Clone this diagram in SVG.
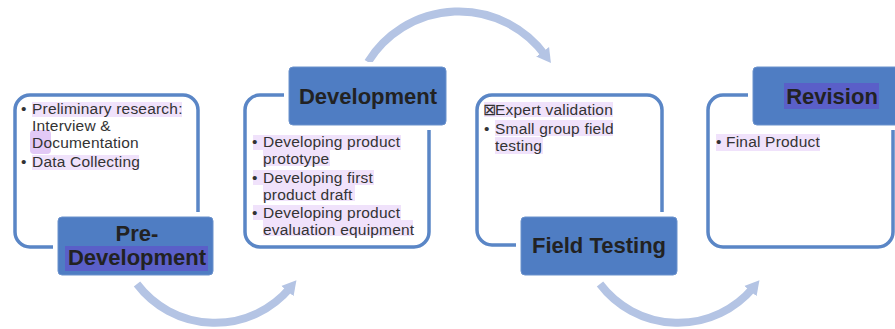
<svg xmlns="http://www.w3.org/2000/svg" width="895" height="329" viewBox="0 0 895 329">
<style>
.frame{fill:#fff;stroke:#5a86c6;stroke-width:3.5}
.gap{fill:#fff}
.lbl{fill:#4f7dc3;stroke:#6b92cc;stroke-width:1}
.lt{font-family:"Liberation Sans",Arial,sans-serif;font-weight:bold;font-size:22px;fill:#222;text-anchor:middle}
.bt{font-family:"Liberation Sans",Arial,sans-serif;font-size:15.5px;letter-spacing:0.2px;fill:#333}
.hl{fill:#f0e2fb}
.hl2{fill:#5a5fc8}
.arc{fill:none;stroke:#b4c4e4;stroke-width:8}
</style>
<defs>
<marker id="ah" markerUnits="userSpaceOnUse" markerWidth="20" markerHeight="20" refX="4" refY="10" orient="auto">
<path d="M0,2 L14,10 L0,18 Z" fill="#b4c4e4"/>
</marker>
</defs>
<g id="connectors">
<path class="arc" d="M137,284 A98,98 0 0 0 290,288" marker-end="url(#ah)"/>
<path class="arc" d="M368,62 A107,107 0 0 1 545,55" marker-end="url(#ah)"/>
<path class="arc" d="M600,284 A98,98 0 0 0 753,288" marker-end="url(#ah)"/>
</g>
<g id="pre-development">
<rect class="frame" x="15" y="95" width="183" height="152" rx="15"/>
<rect class="hl" x="32" y="102" width="150" height="15"/>
<rect fill="#e2c9f6" x="30" y="130" width="21" height="24" rx="4"/>
<rect class="hl" x="32" y="155" width="107" height="15"/>
<text class="bt" x="21" y="114">•</text>
<text class="bt" x="32" y="114">Preliminary research:</text>
<text class="bt" x="32" y="131">Interview &amp;</text>
<text class="bt" x="32" y="148">Documentation</text>
<text class="bt" x="21" y="167">•</text>
<text class="bt" x="32" y="167">Data Collecting</text>
<rect class="gap" x="53" y="212" width="165" height="68" rx="5"/>
<rect class="lbl" x="58" y="217" width="155" height="58" rx="4"/>
<rect class="hl2" x="65" y="246" width="143" height="25"/>
<text class="lt" x="137" y="241">Pre-</text>
<text class="lt" x="137" y="265" fill="#2a1e4a">Development</text>
</g>
<g id="development">
<rect class="frame" x="245" y="95" width="184" height="152" rx="15"/>
<rect class="hl" x="253" y="135" width="148" height="15"/>
<rect class="hl" x="263" y="150" width="67" height="16"/>
<rect class="hl" x="253" y="170" width="121" height="15"/>
<rect class="hl" x="263" y="185" width="92" height="16"/>
<rect class="hl" x="253" y="205" width="148" height="15"/>
<rect class="hl" x="263" y="220" width="150" height="16"/>
<text class="bt" x="252" y="147">•</text>
<text class="bt" x="263" y="147">Developing product</text>
<text class="bt" x="263" y="164">prototype</text>
<text class="bt" x="252" y="183">•</text>
<text class="bt" x="263" y="183">Developing first</text>
<text class="bt" x="263" y="200">product draft</text>
<text class="bt" x="252" y="218">•</text>
<text class="bt" x="263" y="218">Developing product</text>
<text class="bt" x="263" y="235">evaluation equipment</text>
<rect class="gap" x="284" y="62" width="167" height="68" rx="5"/>
<rect class="lbl" x="289" y="67" width="157" height="58" rx="4"/>
<text class="lt" x="368" y="104">Development</text>
</g>
<g id="field-testing">
<rect class="frame" x="477" y="95" width="185" height="150" rx="15"/>
<rect class="hl" x="484" y="102" width="129" height="15"/>
<rect class="hl" x="495" y="120" width="118" height="16"/>
<rect class="hl" x="495" y="137" width="48" height="17"/>
<text class="bt" x="483" y="115">⊠</text>
<text class="bt" x="495" y="115">Expert validation</text>
<text class="bt" x="484" y="134">•</text>
<text class="bt" x="495" y="134">Small group field</text>
<text class="bt" x="495" y="151">testing</text>
<rect class="gap" x="516" y="212" width="166" height="68" rx="5"/>
<rect class="lbl" x="521" y="217" width="156" height="58" rx="4"/>
<text class="lt" x="599" y="253">Field Testing</text>
</g>
<g id="revision">
<rect class="frame" x="708" y="95" width="185" height="152" rx="15"/>
<rect class="hl" x="716" y="134" width="104" height="17"/>
<text class="bt" x="716" y="147">•</text>
<text class="bt" x="726" y="147">Final Product</text>
<rect class="gap" x="748" y="62" width="160" height="68" rx="5"/>
<rect class="lbl" x="753" y="67" width="160" height="58" rx="4"/>
<rect class="hl2" x="784" y="83" width="95" height="26"/>
<text class="lt" x="832" y="104" fill="#2a1e4a">Revision</text>
</g>
</svg>
